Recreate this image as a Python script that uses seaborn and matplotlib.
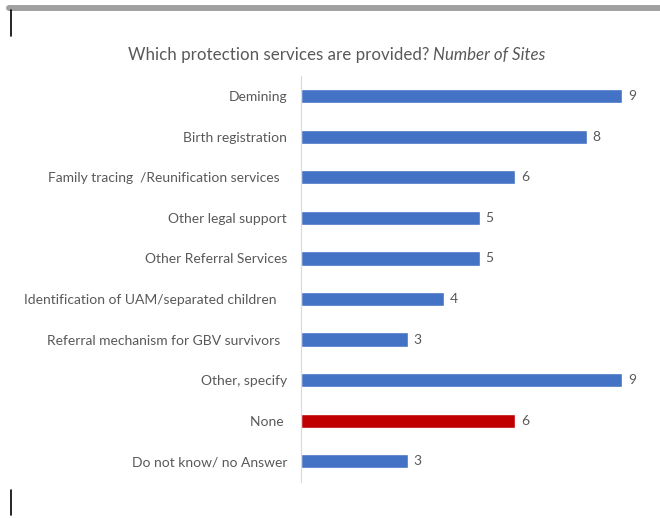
import pandas as pd
import matplotlib.pyplot as plt
import seaborn as sns
from matplotlib.lines import Line2D

# ================= DADOS =================
categories = [
    'Demining',
    'Birth registration',
    'Family tracing  /Reunification services  ',
    'Other legal support',
    'Other Referral Services',
    'Identification of UAM/separated children   ',
    'Referral mechanism for GBV survivors  ',
    'Other, specify',
    'None ',
    'Do not know/ no Answer',
]
sites = [9, 8, 6, 5, 5, 4, 3, 9, 6, 3]
bar_colors = ['#4472C4'] * 8 + ['#C00000', '#4472C4']

TEXT_COLOR = '#595959'

sns.set_theme(style='white')
plt.rcParams['font.family'] = ['Lato', 'DejaVu Sans']

df = pd.DataFrame({'category': categories, 'sites': sites})

fig = plt.figure(figsize=(6.6, 5.18), dpi=100)
ax = fig.add_axes([301 / 660, 1 - 481.5 / 518, 357 / 660, 405.5 / 518])

sns.barplot(data=df, y='category', x='sites', hue='category',
            palette=dict(zip(categories, bar_colors)), legend=False,
            width=0.35, saturation=1, ax=ax, orient='h')

ax.set_xlim(0, 10)
ax.set_ylim(len(categories) - 0.5, -0.5)
ax.set_xlabel('')
ax.set_ylabel('')
ax.set_xticks([])
for s in ['top', 'right', 'bottom']:
    ax.spines[s].set_visible(False)
ax.spines['left'].set_color('#D9D9D9')
ax.spines['left'].set_linewidth(0.8)
ax.tick_params(axis='y', length=0, pad=10, labelsize=10, labelcolor=TEXT_COLOR)

# valores ao lado das barras
for container in ax.containers:
    ax.bar_label(container, fmt='%d', padding=4, fontsize=10, color=TEXT_COLOR)

# titulo (parte em italico)
fig.text(128 / 660, 1 - 55 / 518, 'Which protection services are provided?',
         fontsize=12.2, color=TEXT_COLOR, va='center', ha='left')
fig.text(433 / 660, 1 - 55 / 518, 'Number of Sites', fontsize=12.2,
         color=TEXT_COLOR, va='center', ha='left', style='italic')

# bordas do recorte original
fig.add_artist(Line2D([9 / 660, 1], [1 - 8 / 518, 1 - 8 / 518],
                      color='#A0A0A0', lw=4.3, transform=fig.transFigure))
fig.add_artist(Line2D([11 / 660, 11 / 660], [1 - 10 / 518, 1 - 36 / 518],
                      color='black', lw=1.2, transform=fig.transFigure))
fig.add_artist(Line2D([11 / 660, 11 / 660], [1 - 490 / 518, 1 - 515 / 518],
                      color='black', lw=1.2, transform=fig.transFigure))

fig.savefig('out.png', dpi=100)
